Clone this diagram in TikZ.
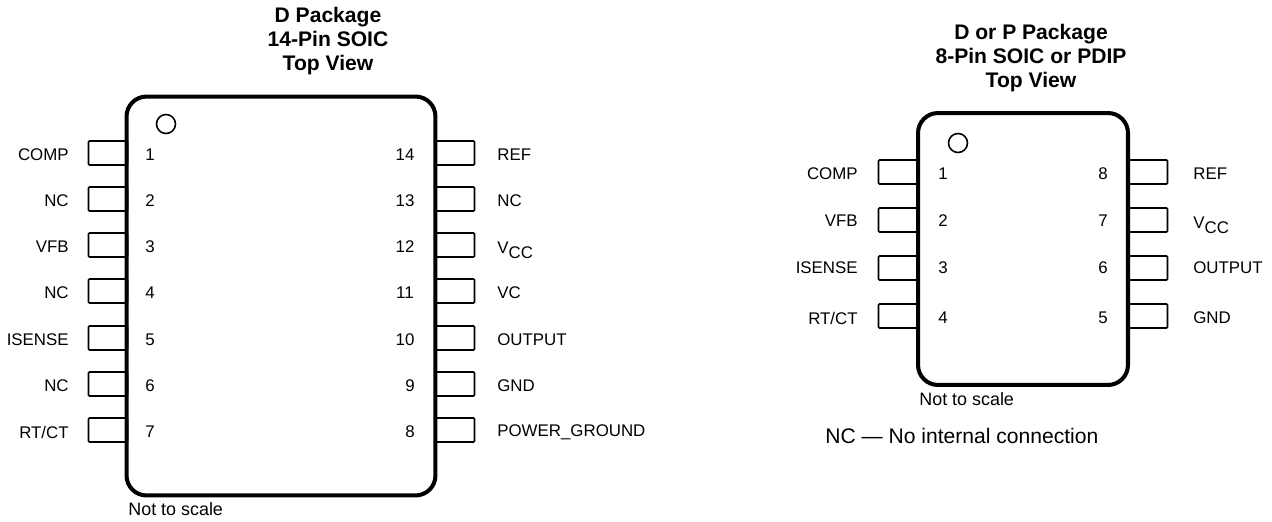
\documentclass[tikz,border=0pt]{standalone}
\usepackage{fontspec}
\setmainfont{Liberation Sans}
\usetikzlibrary{positioning}

\tikzset{
    pinbox/.style={draw, line width=0.9pt, rounded corners=0.6pt, inner sep=0pt, minimum width=0.78cm, minimum height=0.48cm},
    packagebox/.style={draw, line width=2.3pt, rounded corners=0.4cm, inner sep=0pt},
    dotmark/.style={draw, circle, line width=0.9pt, inner sep=0pt, minimum size=0.38cm},
    lab/.style={inner sep=0pt, font=\fontsize{9.6}{11.5}\selectfont},
    note/.style={inner sep=0pt, font=\fontsize{10.2}{12}\selectfont},
    heading/.style={inner sep=0pt, align=center, font=\fontsize{12}{13.6}\selectfont\bfseries},
}

\begin{document}
\begin{tikzpicture}[x=0.02cm, y=-0.02cm]
    \useasboundingbox (0,0) rectangle (1272,521);

    % 14-pin package
    \node[heading] (title14) at (328,41) {D Package\\14-Pin SOIC\\Top View};
    \node[pinbox] (pin1) at (108,153) {};
    \node[pinbox] (pin2) at (108,199) {};
    \node[pinbox] (pin3) at (108,245) {};
    \node[pinbox] (pin4) at (108,291) {};
    \node[pinbox] (pin5) at (108,338) {};
    \node[pinbox] (pin6) at (108,384) {};
    \node[pinbox] (pin7) at (108,430) {};
    \node[pinbox] (pin14) at (455,153) {};
    \node[pinbox] (pin13) at (455,199) {};
    \node[pinbox] (pin12) at (455,245) {};
    \node[pinbox] (pin11) at (455,291) {};
    \node[pinbox] (pin10) at (455,338) {};
    \node[pinbox] (pin9) at (455,384) {};
    \node[pinbox] (pin8) at (455,430) {};
    \node[packagebox, minimum width=6.18cm, minimum height=7.98cm] (soic14) at (281,296) {};
    \node[dotmark] (dot14) at (166,124) {};

    \node[lab, anchor=east] (comp14) at (69,155) {COMP};
    \node[lab, anchor=east] (nca) at (69,201) {NC};
    \node[lab, anchor=east] (vfb14) at (69,247) {VFB};
    \node[lab, anchor=east] (ncb) at (69,293) {NC};
    \node[lab, anchor=east] (isense14) at (69,340) {ISENSE};
    \node[lab, anchor=east] (ncc) at (69,386) {NC};
    \node[lab, anchor=east] (rtct14) at (69,432) {RT/CT};
    \node[lab] (n1) at (150,155) {1};
    \node[lab] (n2) at (150,201) {2};
    \node[lab] (n3) at (150,247) {3};
    \node[lab] (n4) at (150,293) {4};
    \node[lab] (n5) at (150,340) {5};
    \node[lab] (n6) at (150,386) {6};
    \node[lab] (n7) at (150,432) {7};
    \node[lab] (n14) at (405,155) {14};
    \node[lab] (n13) at (405,201) {13};
    \node[lab] (n12) at (405,247) {12};
    \node[lab] (n11) at (405,293) {11};
    \node[lab] (n10) at (405,340) {10};
    \node[lab] (n9) at (410,386) {9};
    \node[lab] (n8) at (410,432) {8};
    \node[lab, anchor=west] (ref14) at (497,155) {REF};
    \node[lab, anchor=west] (ncd) at (497,201) {NC};
    \node[lab, anchor=west] (vcc14) at (497,250) {V\raisebox{-3pt}{CC}};
    \node[lab, anchor=west] (vc14) at (497,293) {VC};
    \node[lab, anchor=west] (out14) at (497,340) {OUTPUT};
    \node[lab, anchor=west] (gnd14) at (497,386) {GND};
    \node[lab, anchor=west] (pwr14) at (497,432) {POWER\_GROUND};
    \node[note, anchor=west] (scale14) at (128,509) {Not to scale};

    % 8-pin package
    \node[heading] (title8) at (1031,58) {D or P Package\\8-Pin SOIC or PDIP\\Top View};
    \node[pinbox] (pa1) at (898,172) {};
    \node[pinbox] (pa2) at (898,220) {};
    \node[pinbox] (pa3) at (898,268) {};
    \node[pinbox] (pa4) at (898,316) {};
    \node[pinbox] (pa8) at (1148,172) {};
    \node[pinbox] (pa7) at (1148,220) {};
    \node[pinbox] (pa6) at (1148,268) {};
    \node[pinbox] (pa5) at (1148,316) {};
    \node[packagebox, minimum width=4.2cm, minimum height=5.44cm] (dip8) at (1023,249) {};
    \node[dotmark] (dot8) at (958,143) {};

    \node[lab, anchor=east] (comp8) at (858,174) {COMP};
    \node[lab, anchor=east] (vfb8) at (858,221) {VFB};
    \node[lab, anchor=east] (isense8) at (858,268) {ISENSE};
    \node[lab, anchor=east] (rtct8) at (858,318) {RT/CT};
    \node[lab] (m1) at (943,174) {1};
    \node[lab] (m2) at (943,221) {2};
    \node[lab] (m3) at (943,268) {3};
    \node[lab] (m4) at (943,318) {4};
    \node[lab] (m8) at (1103,174) {8};
    \node[lab] (m7) at (1103,221) {7};
    \node[lab] (m6) at (1103,268) {6};
    \node[lab] (m5) at (1103,318) {5};
    \node[lab, anchor=west] (ref8) at (1193,174) {REF};
    \node[lab, anchor=west] (vcc8) at (1193,225) {V\raisebox{-3pt}{CC}};
    \node[lab, anchor=west] (out8) at (1193,268) {OUTPUT};
    \node[lab, anchor=west] (gnd8) at (1193,318) {GND};
    \node[note, anchor=west] (scale8) at (919,399) {Not to scale};
    \node[inner sep=0pt, anchor=west, font=\fontsize{12}{14}\selectfont] (ncnote) at (825,436) {NC — No internal connection};
\end{tikzpicture}
\end{document}
